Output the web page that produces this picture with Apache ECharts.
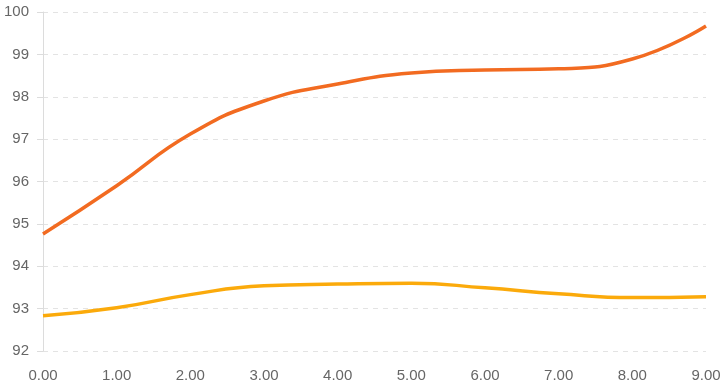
<!DOCTYPE html>
<html><head><meta charset="utf-8">
<script src="https://cdn.jsdelivr.net/npm/echarts@6/dist/echarts.min.js"></script>
<style>html,body{margin:0;padding:0;background:#fff}#c{width:726px;height:387px}</style>
</head><body><div id="c"></div>
<script>
var categories = ['0.00','1.00','2.00','3.00','4.00','5.00','6.00','7.00','8.00','9.00'];
var seriesA = [94.76, 95.90, 97.12, 97.90, 98.30, 98.56, 98.63, 98.66, 98.89, 99.67];
var seriesB = [92.83, 93.02, 93.33, 93.54, 93.58, 93.60, 93.49, 93.35, 93.26, 93.28];
var chart = echarts.init(document.getElementById('c'));
chart.setOption({
  animation: false,
  grid: {left: 43, right: 20, top: 12, bottom: 36},
  xAxis: {
    type: 'category', data: categories, boundaryGap: false,
    axisLine: {show: false}, axisTick: {show: false},
    axisLabel: {color: '#666', fontSize: 15, margin: 17, fontFamily: 'Liberation Sans'},
    splitLine: {show: false}
  },
  yAxis: {
    type: 'value', min: 92, max: 100, interval: 1,
    axisLine: {show: true, lineStyle: {color: '#dcdcdc'}},
    axisTick: {show: true, length: 6, lineStyle: {color: '#dcdcdc'}},
    axisLabel: {color: '#666', fontSize: 15, margin: 14, fontFamily: 'Liberation Sans'},
    splitLine: {lineStyle: {color: '#e3e3e3', type: [5, 5]}}
  },
  series: [
    {type: 'line', data: seriesA, smooth: true, showSymbol: false, lineStyle: {width: 3.5, color: '#f26b21'}, itemStyle: {color: '#f26b21'}},
    {type: 'line', data: seriesB, smooth: true, showSymbol: false, lineStyle: {width: 3.5, color: '#fbaa0b'}, itemStyle: {color: '#fbaa0b'}}
  ]
});
</script></body></html>
